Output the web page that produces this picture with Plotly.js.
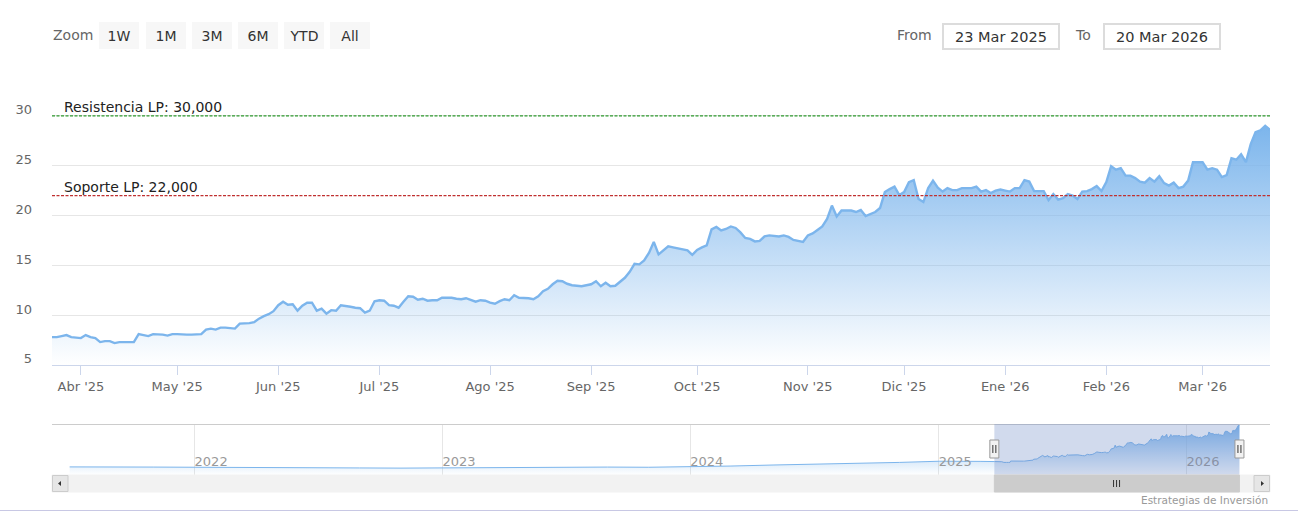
<!DOCTYPE html>
<html><head><meta charset="utf-8">
<script src="https://cdn.plot.ly/plotly-3.0.1.min.js"></script>
<style>html,body{margin:0;padding:0;background:#fff;}#chart{width:1298px;height:522px;}</style>
</head><body><div id="chart"></div>
<script>
// ---- data ----
const dates = [
'2025-03-24','2025-03-25','2025-03-26','2025-03-27','2025-03-28','2025-03-31',
'2025-04-01','2025-04-02','2025-04-03','2025-04-04','2025-04-07','2025-04-08','2025-04-09','2025-04-10','2025-04-11','2025-04-14','2025-04-15','2025-04-16','2025-04-17','2025-04-22','2025-04-23','2025-04-24','2025-04-25','2025-04-28','2025-04-29','2025-04-30',
'2025-05-02','2025-05-05','2025-05-06','2025-05-07','2025-05-08','2025-05-09','2025-05-12','2025-05-13','2025-05-14','2025-05-15','2025-05-16','2025-05-19','2025-05-20','2025-05-21','2025-05-22','2025-05-23','2025-05-26','2025-05-27','2025-05-28','2025-05-29','2025-05-30',
'2025-06-02','2025-06-03','2025-06-04','2025-06-05','2025-06-06','2025-06-09','2025-06-10','2025-06-11','2025-06-12','2025-06-13','2025-06-16','2025-06-17','2025-06-18','2025-06-19','2025-06-20','2025-06-23','2025-06-24','2025-06-25','2025-06-26','2025-06-27','2025-06-30',
'2025-07-01','2025-07-02','2025-07-03','2025-07-04','2025-07-07','2025-07-08','2025-07-09','2025-07-10','2025-07-11','2025-07-14','2025-07-15','2025-07-16','2025-07-17','2025-07-18','2025-07-21','2025-07-22','2025-07-23','2025-07-24','2025-07-25','2025-07-28','2025-07-29','2025-07-30','2025-07-31',
'2025-08-01','2025-08-04','2025-08-05','2025-08-06','2025-08-07','2025-08-08','2025-08-11','2025-08-12','2025-08-13','2025-08-14','2025-08-15','2025-08-18','2025-08-19','2025-08-20','2025-08-21','2025-08-22','2025-08-25','2025-08-26','2025-08-27','2025-08-28','2025-08-29',
'2025-09-01','2025-09-02','2025-09-03','2025-09-04','2025-09-05','2025-09-08','2025-09-09','2025-09-10','2025-09-11','2025-09-12','2025-09-15','2025-09-16','2025-09-17','2025-09-18','2025-09-19','2025-09-22','2025-09-23','2025-09-24','2025-09-25','2025-09-26','2025-09-29','2025-09-30',
'2025-10-01','2025-10-02','2025-10-03','2025-10-06','2025-10-07','2025-10-08','2025-10-09','2025-10-10','2025-10-13','2025-10-14','2025-10-15','2025-10-16','2025-10-17','2025-10-20','2025-10-21','2025-10-22','2025-10-23','2025-10-24','2025-10-27','2025-10-28','2025-10-29','2025-10-30','2025-10-31',
'2025-11-03','2025-11-04','2025-11-05','2025-11-06','2025-11-07','2025-11-10','2025-11-11','2025-11-12','2025-11-13','2025-11-14','2025-11-17','2025-11-18','2025-11-19','2025-11-20','2025-11-21','2025-11-24','2025-11-25','2025-11-26','2025-11-27','2025-11-28',
'2025-12-01','2025-12-02','2025-12-03','2025-12-04','2025-12-05','2025-12-08','2025-12-09','2025-12-10','2025-12-11','2025-12-12','2025-12-15','2025-12-16','2025-12-17','2025-12-18','2025-12-19','2025-12-22','2025-12-23','2025-12-24','2025-12-29','2025-12-30','2025-12-31',
'2026-01-02','2026-01-05','2026-01-06','2026-01-07','2026-01-08','2026-01-09','2026-01-12','2026-01-13','2026-01-14','2026-01-15','2026-01-16','2026-01-19','2026-01-20','2026-01-21','2026-01-22','2026-01-23','2026-01-26','2026-01-27','2026-01-28','2026-01-29','2026-01-30',
'2026-02-02','2026-02-03','2026-02-04','2026-02-05','2026-02-06','2026-02-09','2026-02-10','2026-02-11','2026-02-12','2026-02-13','2026-02-16','2026-02-17','2026-02-18','2026-02-19','2026-02-20','2026-02-23','2026-02-24','2026-02-25','2026-02-26','2026-02-27',
'2026-03-02','2026-03-03','2026-03-04','2026-03-05','2026-03-06','2026-03-09','2026-03-10','2026-03-11','2026-03-12','2026-03-13','2026-03-16','2026-03-17','2026-03-18','2026-03-19','2026-03-20'
];
const prices = [
7.8,7.8,7.9,8.0,7.8,7.75,
7.7,8.0,7.8,7.7,7.3,7.4,7.4,7.2,7.3,7.3,7.3,7.3,8.1,8.0,7.9,8.1,8.1,8.05,7.95,8.1,
8.1,8.05,8.05,8.05,8.1,8.1,8.55,8.65,8.55,8.75,8.75,8.7,8.65,9.15,9.15,9.2,9.3,9.65,9.9,10.1,10.4,
11.0,11.35,11.05,11.1,10.45,10.95,11.25,11.25,10.45,10.65,10.15,10.5,10.45,11.0,10.95,10.85,10.75,10.7,10.25,10.45,11.4,
11.5,11.45,11.0,10.95,10.75,11.35,11.9,11.85,11.55,11.65,11.45,11.5,11.5,11.75,11.75,11.75,11.65,11.6,11.7,11.5,11.35,11.5,11.45,
11.25,11.15,11.4,11.6,11.5,12.0,11.75,11.75,11.7,11.6,11.9,12.4,12.65,13.1,13.45,13.4,13.15,13.0,12.95,12.9,13.0,
13.1,13.4,12.9,13.25,12.9,12.95,13.4,13.75,14.35,15.15,15.1,15.5,16.25,17.35,16.1,16.5,16.9,16.8,16.7,16.6,16.5,16.05,
16.55,16.8,17.0,18.6,18.85,18.5,18.65,18.9,18.75,18.3,17.75,17.65,17.4,17.45,17.9,18.0,17.95,17.9,18.0,17.85,17.55,17.45,17.35,
18.0,18.2,18.55,18.9,19.65,21.0,19.9,20.5,20.5,20.5,20.35,20.55,19.95,20.15,20.35,20.75,22.35,22.65,22.9,22.05,
22.35,23.35,23.55,21.65,21.35,22.75,23.5,22.8,22.4,22.75,22.55,22.55,22.75,22.75,22.75,22.9,22.4,22.55,22.25,22.5,22.6,
22.5,22.4,22.75,22.75,23.55,23.4,22.45,22.45,22.45,21.55,22.15,21.6,21.75,22.15,22.0,21.65,22.4,22.45,22.65,22.95,22.45,
23.35,24.95,24.6,24.75,24.0,24.0,23.75,23.4,23.3,23.75,23.4,23.95,23.25,23.0,23.3,22.75,22.9,23.5,25.35,25.35,
25.35,24.6,24.75,24.6,23.85,24.05,25.75,25.6,26.15,25.35,27.15,28.35,28.55,29.0,28.6
];
// older history shown only in the navigator
const historyDates = ['2021-07-01','2021-09-01','2021-11-01','2022-01-03','2022-03-01','2022-05-02','2022-07-01','2022-09-01','2022-11-01','2023-01-02','2023-03-01','2023-05-02','2023-07-03','2023-09-01','2023-11-01','2024-01-02','2024-03-01','2024-05-02','2024-07-01','2024-09-02','2024-11-04','2025-01-02','2025-02-03','2025-03-03','2025-03-21'];
const historyPrices = [4.7,4.8,4.6,4.5,4.3,4.2,4.0,4.1,4.0,4.2,4.4,4.5,4.6,4.6,4.5,4.7,5.2,5.8,6.2,6.8,7.3,8.0,8.1,7.9,7.7];

const monthTickDates = ['2025-04-01','2025-05-02','2025-06-02','2025-07-01','2025-08-01','2025-09-01','2025-10-01','2025-11-03','2025-12-01','2026-01-02','2026-02-02','2026-03-02'];
const monthTickLabels = ["Abr '25","May '25","Jun '25","Jul '25","Ago '25","Sep '25","Oct '25","Nov '25","Dic '25","Ene '26","Feb '26","Mar '26"];
const yTickValues = [5,10,15,20,25,30,35];
const yTickLabels = ['5','10','15','20','25','30',''];
const levelValues = [30, 22];
const levelLabels = ['Resistencia LP: 30,000', 'Soporte LP: 22,000'];
const levelColors = ['#2f9a2f', '#c03030'];
const marketHolidays = ['2025-04-18','2025-04-21','2025-05-01','2025-12-25','2025-12-26','2026-01-01'];
const zoomButtons = ['1W','1M','3M','6M','YTD','All'];
const fromLabel = '23 Mar 2025';
const toLabel = '20 Mar 2026';
const creditText = 'Estrategias de Inversión';

// ---- geometry helpers (page pixels -> paper) ----
const PL = 52, PR = 1270, PT = 66, PB = 492;
const px = x => (x - PL) / (PR - PL);
const py = y => (PB - y) / (PB - PT);
const FONT = 'DejaVu Sans, Verdana, sans-serif';

const navDates = historyDates.slice(0, -1).concat(dates);
const navPrices = historyPrices.slice(0, -1).concat(prices);
const maxPrice = Math.max(...prices);
const selStart = dates[0], selEnd = dates[dates.length - 1];
const selMid = new Date((Date.parse(selStart) + Date.parse(selEnd)) / 2).toISOString().slice(0, 10);

const traces = [
  {x: dates, y: prices, xaxis: 'x', yaxis: 'y', type: 'scatter', mode: 'lines',
   line: {color: '#7cb5ec', width: 2.4}, fill: 'tozeroy',
   fillgradient: {type: 'vertical', start: 5, stop: maxPrice,
     colorscale: [[0, 'rgba(124,181,236,0)'], [1, 'rgba(124,181,236,1)']]},
   hoverinfo: 'skip', showlegend: false},
  {x: navDates, y: navPrices, xaxis: 'x2', yaxis: 'y2', type: 'scatter', mode: 'lines',
   line: {color: '#7cb5ec', width: 1}, fill: 'tozeroy',
   fillgradient: {type: 'vertical', start: 0, stop: maxPrice,
     colorscale: [[0, 'rgba(124,181,236,0)'], [1, 'rgba(124,181,236,1)']]},
   hoverinfo: 'skip', showlegend: false}
];

const shapes = [];
levelValues.forEach((v, i) => shapes.push({type: 'line', xref: 'paper', x0: 0, x1: 1, yref: 'y', y0: v, y1: v,
  line: {color: levelColors[i], width: 1.3, dash: '3px,1.5px'}, layer: 'above'}));
// navigator outline + mask
shapes.push({type: 'line', xref: 'paper', x0: 0, x1: 1, yref: 'paper', y0: py(424.5), y1: py(424.5), line: {color: '#cccccc', width: 1}});
shapes.push({type: 'rect', xref: 'x2', x0: selStart, x1: selEnd, yref: 'paper', y0: py(475), y1: py(424),
  fillcolor: 'rgba(102,133,194,0.3)', line: {width: 0}, layer: 'above'});
// scrollbar
shapes.push({type: 'rect', xref: 'paper', x0: 0, x1: 1, yref: 'paper', y0: py(492), y1: py(475), fillcolor: '#f2f2f2', line: {color: '#f2f2f2', width: 1}});
shapes.push({type: 'rect', xref: 'paper', x0: px(52.5), x1: px(68), yref: 'paper', y0: py(491.5), y1: py(475.5), fillcolor: '#e6e6e6', line: {color: '#cccccc', width: 1}});
shapes.push({type: 'rect', xref: 'paper', x0: px(1254), x1: px(1269.5), yref: 'paper', y0: py(491.5), y1: py(475.5), fillcolor: '#e6e6e6', line: {color: '#cccccc', width: 1}});
shapes.push({type: 'rect', xref: 'x2', x0: selStart, x1: selEnd, yref: 'paper', y0: py(492), y1: py(475), fillcolor: '#cccccc', line: {color: '#cccccc', width: 1}});
const tri = pts => 'M' + pts.map(p => px(p[0]) + ',' + py(p[1])).join(' L') + ' Z';
shapes.push({type: 'path', xref: 'paper', yref: 'paper', path: tri([[58, 483.5], [61, 481], [61, 486]]), fillcolor: '#333333', line: {width: 0}});
shapes.push({type: 'path', xref: 'paper', yref: 'paper', path: tri([[1264, 483.5], [1261, 481], [1261, 486]]), fillcolor: '#333333', line: {width: 0}});
[-3, 0, 3].forEach(o => shapes.push({type: 'line', xref: 'x2', xsizemode: 'pixel', xanchor: selMid, x0: o, x1: o,
  yref: 'paper', y0: py(487), y1: py(480), line: {color: '#333333', width: 1}}));
// navigator handles
[selStart, selEnd].forEach(d => {
  shapes.push({type: 'rect', xref: 'x2', xsizemode: 'pixel', xanchor: d, x0: -4.5, x1: 4.5,
    yref: 'paper', y0: py(458), y1: py(440), fillcolor: '#f2f2f2', line: {color: '#999999', width: 1}, layer: 'above'});
  [-1.5, 1.5].forEach(o => shapes.push({type: 'line', xref: 'x2', xsizemode: 'pixel', xanchor: d, x0: o, x1: o,
    yref: 'paper', y0: py(453), y1: py(445), line: {color: '#333333', width: 1}, layer: 'above'}));
});
// bottom frame line
shapes.push({type: 'line', xref: 'paper', x0: px(0), x1: px(1298), yref: 'paper', y0: py(510.5), y1: py(510.5), line: {color: '#c8c8e4', width: 1}});

const annotations = [];
levelLabels.forEach((t, i) => annotations.push({text: t, xref: 'paper', x: px(62), xanchor: 'left',
  yref: 'y', y: levelValues[i], yanchor: 'bottom', yshift: -1, showarrow: false, font: {size: 14, color: '#222'}}));
annotations.push({text: 'Zoom', xref: 'paper', x: px(51), xanchor: 'left', yref: 'paper', y: py(35.5), yanchor: 'middle',
  showarrow: false, font: {size: 14, color: '#666'}});
zoomButtons.forEach((b, i) => annotations.push({text: b, xref: 'paper', x: px(99.3 + i * 46.2), xanchor: 'left',
  yref: 'paper', y: py(22.3), yanchor: 'top', width: 40, height: 27, borderpad: 0, borderwidth: 0,
  bgcolor: '#f7f7f7', align: 'center', valign: 'middle', showarrow: false, font: {size: 14, color: '#333'}}));
annotations.push({text: 'From', xref: 'paper', x: px(895), xanchor: 'left', yref: 'paper', y: py(35.5), yanchor: 'middle',
  showarrow: false, font: {size: 14, color: '#666'}});
annotations.push({text: 'To', xref: 'paper', x: px(1073), xanchor: 'left', yref: 'paper', y: py(35.5), yanchor: 'middle',
  showarrow: false, font: {size: 14, color: '#666'}});
[[942, fromLabel], [1103, toLabel]].forEach(([l, t]) => annotations.push({text: t, xref: 'paper', x: px(l), xanchor: 'left',
  yref: 'paper', y: py(23), yanchor: 'top', width: 114, height: 23, borderpad: 0, borderwidth: 2, bordercolor: '#dcdcdc',
  bgcolor: '#ffffff', align: 'center', valign: 'middle', showarrow: false, font: {size: 14.5, color: '#333'}}));
annotations.push({text: creditText, xref: 'paper', x: px(1270), xanchor: 'right', yref: 'paper', y: py(499.5), yanchor: 'middle',
  showarrow: false, font: {size: 10.5, color: '#999'}});

const layout = {
  width: 1298, height: 522, margin: {l: PL, r: 1298 - PR, t: PT, b: 522 - PB, pad: 0},
  paper_bgcolor: '#ffffff', plot_bgcolor: 'rgba(0,0,0,0)', showlegend: false,
  font: {family: FONT, size: 13, color: '#666'},
  xaxis: {domain: [0, 1], anchor: 'y', type: 'date', range: [selStart, selEnd],
    rangebreaks: [{bounds: ['sat', 'mon']}, {values: marketHolidays}],
    tickmode: 'array', tickvals: monthTickDates, ticktext: monthTickLabels,
    ticks: 'outside', ticklen: 9, tickcolor: '#ccd6eb', tickwidth: 1,
    showline: true, linecolor: '#ccd6eb', linewidth: 1, showgrid: false, zeroline: false,
    tickfont: {size: 13, color: '#666'}, fixedrange: true},
  yaxis: {domain: [py(365), 1], anchor: 'x', range: [5, 35], tickmode: 'array', tickvals: yTickValues, ticktext: yTickLabels,
    showgrid: true, gridcolor: '#e6e6e6', gridwidth: 1, zeroline: false, showline: false, ticks: '',
    ticklabelposition: 'outside top', ticklabelstandoff: 19, ticklabelshift: 3, tickfont: {size: 13, color: '#666'}, fixedrange: true},
  xaxis2: {domain: [0, 1], anchor: 'y2', type: 'date', range: ['2021-06-05', '2026-05-04'],
    dtick: 'M12', tick0: '2022-01-01', tickformat: '%Y', ticklabelposition: 'inside right', ticks: '',
    showgrid: true, gridcolor: '#e6e6e6', zeroline: false, showline: false,
    tickfont: {size: 13, color: '#999'}, fixedrange: true},
  yaxis2: {domain: [py(475), py(424)], anchor: 'x2', range: [0, 29.6], showgrid: false, zeroline: false,
    showticklabels: false, ticks: '', fixedrange: true},
  shapes: shapes, annotations: annotations
};
Plotly.newPlot('chart', traces, layout, {displayModeBar: false, staticPlot: true});
</script></body></html>
